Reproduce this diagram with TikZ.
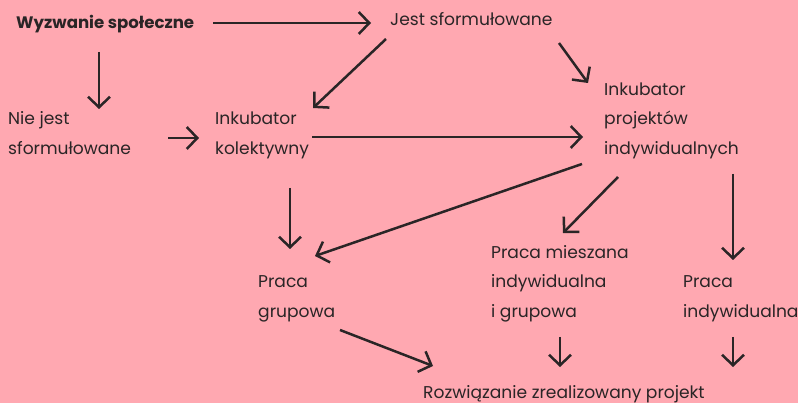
\documentclass[tikz,border=0pt]{standalone}
\usepackage{fontspec}
\setmainfont{Poppins}
\usetikzlibrary{arrows.meta}
\definecolor{bg}{HTML}{FFA8B1}
\definecolor{ink}{HTML}{2A2526}
\begin{document}
\begin{tikzpicture}[x=1pt,y=-1pt,
  txt/.style={anchor=base west, inner sep=0pt, text=ink, font=\fontsize{17.1}{30}\selectfont},
  btxt/.style={txt, font=\fontsize{16.6}{30}\selectfont\bfseries},
  arr/.style={draw=ink, line width=2.5pt, -{Straight Barb[length=10.5pt,width=22pt,line width=2.5pt]}}]
\fill[bg] (0,0) rectangle (798,403);
\useasboundingbox (0,0) rectangle (798,403);
% texts
\node[btxt] (wyz) at (16,29) {Wyzwanie społeczne};
\node[txt] (jest) at (390,26) {Jest sformułowane};
\node[txt] (nj1) at (8,125) {Nie jest};
\node[txt] (nj2) at (8,155) {sformułowane};
\node[txt] (ik1) at (215,125) {Inkubator};
\node[txt] (ik2) at (215,155) {kolektywny};
\node[txt] (ip1) at (604,96) {Inkubator};
\node[txt] (ip2) at (604,125) {projektów};
\node[txt] (ip3) at (604,155) {indywidualnych};
\node[txt] (pg1) at (258,288) {Praca};
\node[txt] (pg2) at (258,318) {grupowa};
\node[txt] (pm1) at (491,259) {Praca mieszana};
\node[txt] (pm2) at (491,288) {indywidualna};
\node[txt] (pm3) at (491,318) {i grupowa};
\node[txt] (pi1) at (683,288) {Praca};
\node[txt] (pi2) at (683,318) {indywidualna};
\node[txt] (roz) at (423,398) {Rozwiązanie zrealizowany projekt};
% arrow end points
\coordinate (a1s) at (213,23);  \coordinate (a1e) at (371,23);
\coordinate (a2s) at (99,52);   \coordinate (a2e) at (99,109);
\coordinate (a3s) at (386,39);  \coordinate (a3e) at (313,108);
\coordinate (a4s) at (559,43);  \coordinate (a4e) at (588,83);
\coordinate (a5s) at (168,138); \coordinate (a5e) at (199,138);
\coordinate (a6s) at (312,137); \coordinate (a6e) at (583,137);
\coordinate (a7s) at (290,188); \coordinate (a7e) at (290,249);
\coordinate (a8s) at (582,164); \coordinate (a8e) at (315,256);
\coordinate (a9s) at (618,177); \coordinate (a9e) at (563,233);
\coordinate (a10s) at (733,174); \coordinate (a10e) at (733,260);
\coordinate (a11s) at (340,330); \coordinate (a11e) at (433,366);
\coordinate (a12s) at (560,337); \coordinate (a12e) at (560,367);
\coordinate (a13s) at (733,337); \coordinate (a13e) at (733,367);
\foreach \i in {1,...,13} { \draw[arr] (a\i s) -- (a\i e); }
\end{tikzpicture}
\end{document}
